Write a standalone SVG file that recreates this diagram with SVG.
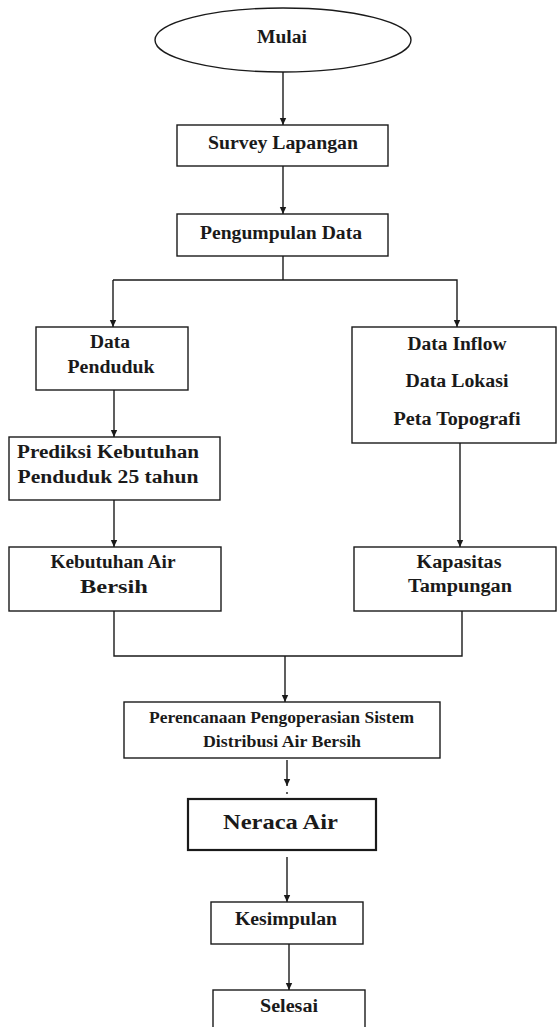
<svg xmlns="http://www.w3.org/2000/svg" width="558" height="1027" viewBox="0 0 558 1027">
<style>
.box{fill:#fff;stroke:#1a1a1a;stroke-width:1.4}
text{font-family:'Liberation Serif','DejaVu Serif',serif;font-weight:700;font-size:18px;fill:#1a1a1a;text-anchor:middle}
.s{font-size:16px}
.c{fill:none;stroke:#1a1a1a;stroke-width:1.4}
</style>
<defs>
<marker id="ah" markerWidth="8" markerHeight="8" refX="7" refY="4" orient="auto" markerUnits="userSpaceOnUse">
<path d="M0,0.8 L7,4 L0,7.2 Z" fill="#1a1a1a"/>
</marker>
</defs>
<rect width="558" height="1027" fill="#fff"/>
<g id="connectors">
<line class="c" x1="283" y1="72" x2="283" y2="125" marker-end="url(#ah)"/>
<line class="c" x1="283" y1="166" x2="283" y2="214" marker-end="url(#ah)"/>
<polyline class="c" points="283,256 283,280"/>
<polyline class="c" points="113,280 457,280 457,327" marker-end="url(#ah)"/>
<line class="c" x1="113" y1="280" x2="113" y2="327" marker-end="url(#ah)"/>
<line class="c" x1="114" y1="390" x2="114" y2="437" marker-end="url(#ah)"/>
<line class="c" x1="114" y1="500" x2="114" y2="547" marker-end="url(#ah)"/>
<line class="c" x1="460" y1="443" x2="460" y2="547" marker-end="url(#ah)"/>
<polyline class="c" points="114,611 114,656 462,656 462,611"/>
<line class="c" x1="285" y1="656" x2="285" y2="702" marker-end="url(#ah)"/>
<line class="c" x1="287" y1="760" x2="287" y2="786" marker-end="url(#ah)"/>
<line class="c" x1="287" y1="792" x2="287" y2="794"/>
<line class="c" x1="287" y1="857" x2="287" y2="902" marker-end="url(#ah)"/>
<line class="c" x1="289" y1="944" x2="289" y2="990" marker-end="url(#ah)"/>
</g>
<g id="mulai">
<ellipse class="box" cx="283" cy="40" rx="128" ry="32"/>
<text x="282" y="43" textLength="50" lengthAdjust="spacingAndGlyphs">Mulai</text>
</g>
<g id="survey">
<rect class="box" x="177" y="125" width="211" height="41"/>
<text x="283" y="149" textLength="150" lengthAdjust="spacingAndGlyphs">Survey Lapangan</text>
</g>
<g id="pengumpulan">
<rect class="box" x="177" y="214" width="211" height="42"/>
<text x="281" y="239" textLength="162" lengthAdjust="spacingAndGlyphs">Pengumpulan Data</text>
</g>
<g id="data-penduduk">
<rect class="box" x="36" y="327" width="152" height="63"/>
<text x="110" y="348" textLength="40" lengthAdjust="spacingAndGlyphs">Data</text>
<text x="111" y="373" textLength="87" lengthAdjust="spacingAndGlyphs">Penduduk</text>
</g>
<g id="data-inflow">
<rect class="box" x="352" y="327" width="204" height="116"/>
<text x="457" y="350" textLength="99" lengthAdjust="spacingAndGlyphs">Data Inflow</text>
<text x="457" y="387" textLength="103" lengthAdjust="spacingAndGlyphs">Data Lokasi</text>
<text x="457" y="425" textLength="127" lengthAdjust="spacingAndGlyphs">Peta Topografi</text>
</g>
<g id="prediksi">
<rect class="box" x="9" y="437" width="211" height="63"/>
<text x="108" y="458" textLength="182" lengthAdjust="spacingAndGlyphs">Prediksi Kebutuhan</text>
<text x="108" y="483" textLength="181" lengthAdjust="spacingAndGlyphs">Penduduk 25 tahun</text>
</g>
<g id="kebutuhan">
<rect class="box" x="9" y="547" width="212" height="64"/>
<text x="113" y="568" textLength="125" lengthAdjust="spacingAndGlyphs">Kebutuhan Air</text>
<text x="114" y="593" textLength="68" lengthAdjust="spacingAndGlyphs">Bersih</text>
</g>
<g id="kapasitas">
<rect class="box" x="354" y="547" width="202" height="64"/>
<text x="459" y="568" textLength="85" lengthAdjust="spacingAndGlyphs">Kapasitas</text>
<text x="460" y="592" textLength="104" lengthAdjust="spacingAndGlyphs">Tampungan</text>
</g>
<g id="perencanaan">
<rect class="box" x="124" y="702" width="316" height="56"/>
<text class="s" x="281.5" y="723" textLength="265" lengthAdjust="spacingAndGlyphs">Perencanaan Pengoperasian Sistem</text>
<text class="s" x="282" y="747" textLength="158" lengthAdjust="spacingAndGlyphs">Distribusi Air Bersih</text>
</g>
<g id="neraca">
<rect class="box" x="188" y="799" width="188" height="51" style="stroke-width:2.2"/>
<text x="280.5" y="829" style="font-size:22px" textLength="115" lengthAdjust="spacingAndGlyphs">Neraca Air</text>
</g>
<g id="kesimpulan">
<rect class="box" x="211" y="902" width="152" height="42"/>
<text x="286" y="925" textLength="102" lengthAdjust="spacingAndGlyphs">Kesimpulan</text>
</g>
<g id="selesai">
<rect class="box" x="213" y="990" width="152" height="45"/>
<text x="289" y="1012" textLength="58" lengthAdjust="spacingAndGlyphs">Selesai</text>
</g>
</svg>
